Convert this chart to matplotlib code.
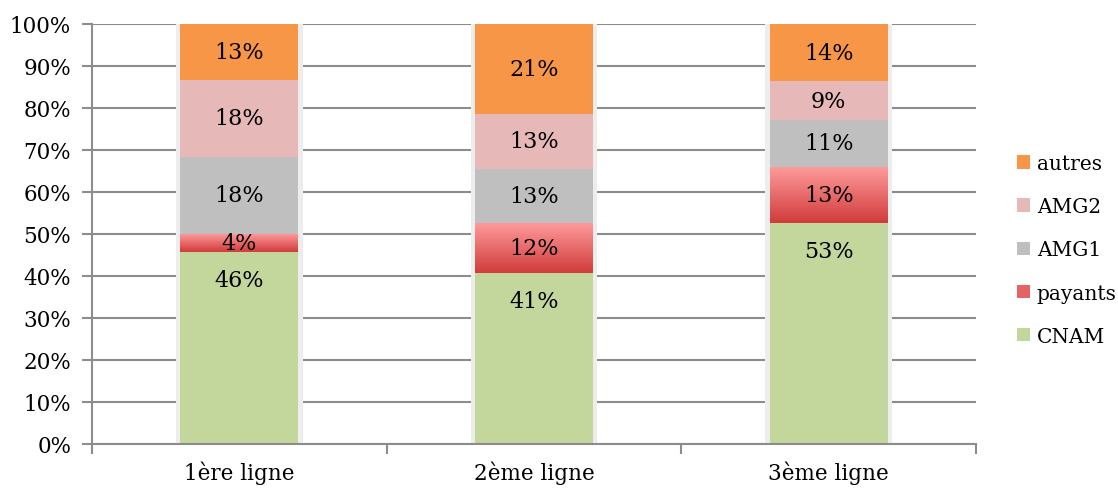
import matplotlib
matplotlib.use("Agg")
import matplotlib.pyplot as plt
import numpy as np
from matplotlib.patches import Patch

# données (en % du total)
categories = ["1ère ligne", "2ème ligne", "3ème ligne"]
cnam = [45.6, 40.7, 52.6]
payants = [4.4, 12.0, 13.4]
amg1 = [18.4, 12.8, 11.1]
amg2 = [18.2, 13.1, 9.3]
autres = [13.4, 21.4, 13.6]

series = [
    ("CNAM", cnam, "#c3d69b"),
    ("payants", payants, "#e46464"),
    ("AMG1", amg1, "#bfbfbf"),
    ("AMG2", amg2, "#e6b9b8"),
    ("autres", autres, "#f79646"),
]

plt.rcParams["font.family"] = ["DejaVu Serif"]
grid_col = "#8c8c8c"
fs = 15.5

fig = plt.figure(figsize=(11.18, 4.89), dpi=100)
ax = fig.add_axes([0.0823, 0.09, 0.7907, 0.859])

x = np.arange(len(categories))
width = 0.4

# ombre légère autour des barres
ax.bar(x, 100, width=width + 0.03, bottom=0, color="#ededed", zorder=2)
ax.bar(x, 0.6, width=width + 0.03, bottom=-0.6, color="#e4e4e4", zorder=2)

bottom = np.zeros(len(categories))
for name, vals, col in series:
    vals = np.array(vals)
    bars = ax.bar(x, vals, width=width, bottom=bottom, color=col, zorder=3, label=name)
    if name == "payants":
        # dégradé rouge (clair en haut, foncé en bas)
        cmap = matplotlib.colors.LinearSegmentedColormap.from_list("pay", ["#d13b3b", "#ff9c9c"])
        grad = np.linspace(0, 1, 100).reshape(-1, 1)
        for b in bars:
            x0, y0 = b.get_x(), b.get_y()
            w, h = b.get_width(), b.get_height()
            im = ax.imshow(grad, cmap=cmap, aspect="auto", origin="lower",
                           extent=[x0, x0 + w, y0, y0 + h], zorder=3.5)
            im.set_clip_path(b)
    for xi, v, b0 in zip(x, vals, bottom):
        if name == "CNAM":
            # étiquette placée près du haut du segment
            ax.annotate(f"{round(v):d}%", (xi, b0 + v), xytext=(0, -20),
                        textcoords="offset points", ha="center", va="center",
                        fontsize=16, color="black", zorder=5)
        else:
            ax.text(xi, b0 + v / 2, f"{round(v):d}%", ha="center", va="center",
                    fontsize=16, color="black", zorder=5)
    bottom += vals

ax.set_xlim(-0.5, 2.5)
ax.set_ylim(0, 100)
ax.set_yticks(np.arange(0, 101, 10))
ax.set_yticklabels([f"{v}%" for v in range(0, 101, 10)], fontsize=fs)
ax.yaxis.grid(True, color=grid_col, linewidth=1.5, zorder=1)
ax.set_axisbelow(True)

ax.set_xticks(x)
ax.set_xticklabels(categories, fontsize=fs)
ax.set_xticks([-0.5, 0.5, 1.5, 2.5], minor=True)
ax.tick_params(axis="x", which="major", length=0, pad=12)
ax.tick_params(axis="x", which="minor", length=7, width=1.5, color=grid_col)
ax.tick_params(axis="y", length=7, width=1.5, color=grid_col, pad=8)

for s in ["top", "right"]:
    ax.spines[s].set_visible(False)
for s in ["left", "bottom"]:
    ax.spines[s].set_color(grid_col)
    ax.spines[s].set_linewidth(1.5)
ax.spines["bottom"].set_zorder(6)

handles = [Patch(facecolor=col, label=name) for name, _, col in series][::-1]
leg = ax.legend(handles=handles, loc="center left", bbox_to_anchor=(1.046, 0.462),
                frameon=False, fontsize=14.5, handlelength=0.65, handleheight=0.65,
                handletextpad=0.35, labelspacing=1.2, borderpad=0, borderaxespad=0)

fig.savefig("out.png", dpi=100)
